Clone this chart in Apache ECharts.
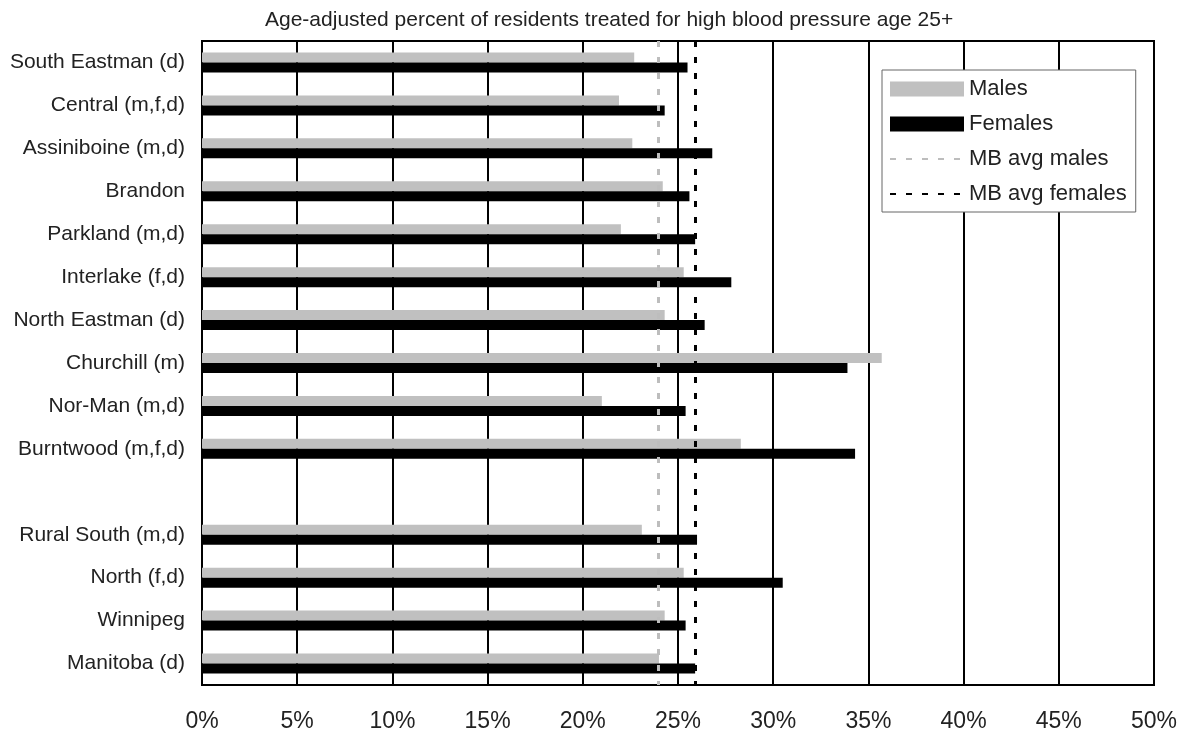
<!DOCTYPE html>
<html>
<head>
<meta charset="utf-8">
<script src="https://cdn.jsdelivr.net/npm/echarts@6/dist/echarts.min.js"></script>
<style>
html,body{margin:0;padding:0;background:#fff;}
#chart{width:1188px;height:734px;}
</style>
</head>
<body>
<div id="chart"></div>
<script>
var titleText = 'Age-adjusted percent of residents treated for high blood pressure age 25+';
var categories = ['South Eastman (d)', 'Central (m,f,d)', 'Assiniboine (m,d)', 'Brandon', 'Parkland (m,d)', 'Interlake (f,d)', 'North Eastman (d)', 'Churchill (m)', 'Nor-Man (m,d)', 'Burntwood (m,f,d)', '', 'Rural South (m,d)', 'North (f,d)', 'Winnipeg', 'Manitoba (d)'];
var males = [22.7, 21.9, 22.6, 24.2, 22.0, 25.3, 24.3, 35.7, 21.0, 28.3, null, 23.1, 25.3, 24.3, 24.0];
var females = [25.5, 24.3, 26.8, 25.6, 25.9, 27.8, 26.4, 33.9, 25.4, 34.3, null, 26.0, 30.5, 25.4, 25.9];
var mbAvgMales = 23.95;
var mbAvgFemales = 25.9;
var xTicks = [0, 5, 10, 15, 20, 25, 30, 35, 40, 45, 50];

var FONT = 'Liberation Sans, Arial, sans-serif';
var emptyLine = categories.map(function(){ return null; });
var hiddenSymbol = {color: 'rgba(0,0,0,0)', borderWidth: 0, opacity: 0};

var chart = echarts.init(document.getElementById('chart'), null, {renderer: 'canvas'});
chart.setOption({
  animation: false,
  backgroundColor: '#fff',
  textStyle: {fontFamily: FONT},
  title: {
    text: titleText,
    left: 260,
    top: 5,
    textStyle: {fontFamily: FONT, fontSize: 21, fontWeight: 'normal', color: '#222'}
  },
  legend: {
    orient: 'vertical',
    left: 882,
    top: 70,
    padding: [8, 9, 7, 7],
    itemGap: 13,
    itemWidth: 74,
    itemHeight: 15,
    backgroundColor: '#fff',
    borderColor: '#666',
    borderWidth: 1,
    borderRadius: 0,
    textStyle: {fontFamily: FONT, fontSize: 22, color: '#222', padding: [0, 0, 0, 0]},
    data: [
      {name: 'Males', icon: 'rect'},
      {name: 'Females', icon: 'rect'},
      {name: 'MB avg males', itemStyle: hiddenSymbol},
      {name: 'MB avg females', itemStyle: hiddenSymbol}
    ]
  },
  grid: {
    left: 202, right: 34, top: 41, bottom: 49,
    show: true, borderColor: '#000', borderWidth: 2, backgroundColor: 'transparent',
    containLabel: false
  },
  xAxis: {
    type: 'value',
    min: xTicks[0], max: xTicks[xTicks.length - 1], interval: xTicks[1] - xTicks[0],
    axisLine: {show: true, lineStyle: {color: '#000', width: 2}},
    axisTick: {show: false},
    splitLine: {show: true, lineStyle: {color: '#000', width: 2}},
    axisLabel: {formatter: '{value}%', fontFamily: FONT, fontSize: 23, color: '#222', margin: 25}
  },
  yAxis: {
    type: 'category',
    data: categories,
    inverse: true,
    axisLine: {show: true, lineStyle: {color: '#000', width: 2}},
    axisTick: {show: false},
    splitLine: {show: false},
    axisLabel: {fontFamily: FONT, fontSize: 21, color: '#222', margin: 17}
  },
  series: [
    {
      name: 'Males', type: 'bar', data: males,
      barWidth: 10, barGap: '0%',
      itemStyle: {color: '#c0c0c0'}
    },
    {
      name: 'Females', type: 'bar', data: females,
      barWidth: 10, barGap: '0%',
      itemStyle: {color: '#000'}
    },
    {
      name: 'MB avg males', type: 'line', data: emptyLine, symbol: 'none', symbolSize: 0,
      itemStyle: {color: '#bdbdbd'},
      lineStyle: {color: '#bdbdbd', width: 3, type: [6, 10]},
      markLine: {
        silent: true, symbol: 'none', label: {show: false},
        lineStyle: {color: '#bdbdbd', width: 3, type: [6, 10]},
        data: [{xAxis: mbAvgMales}]
      }
    },
    {
      name: 'MB avg females', type: 'line', data: emptyLine, symbol: 'none', symbolSize: 0,
      itemStyle: {color: '#000'},
      lineStyle: {color: '#000', width: 3, type: [6, 10]},
      markLine: {
        silent: true, symbol: 'none', label: {show: false},
        lineStyle: {color: '#000', width: 3, type: [6, 10]},
        data: [{xAxis: mbAvgFemales}]
      }
    }
  ]
});
</script>
</body>
</html>
